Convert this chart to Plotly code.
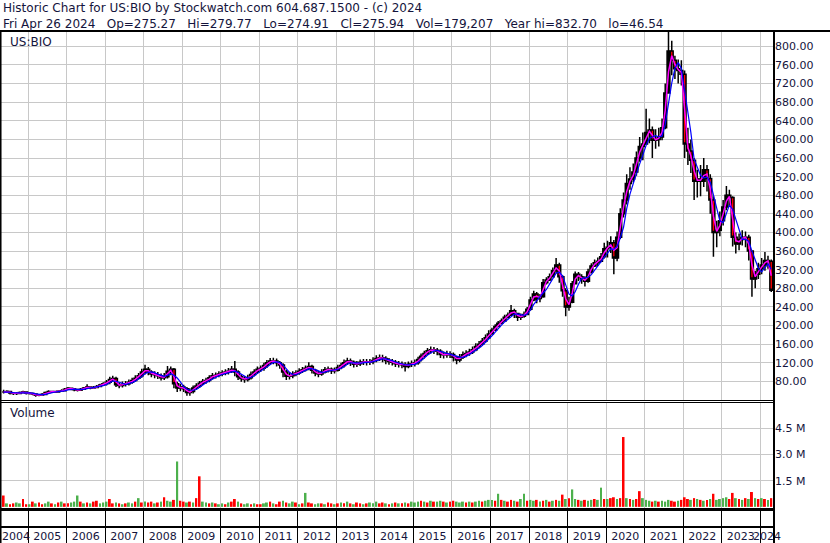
import pandas as pd
import plotly.graph_objects as go
from plotly.subplots import make_subplots

# monthly bars, May 2004 .. Apr 2024
months = pd.date_range('2004-05-01', periods=240, freq='MS') + pd.Timedelta(days=14)

close = [
    57, 58, 55, 54, 54, 56, 57, 55,
    54, 53, 50, 51, 52, 56, 58, 58, 57, 59, 60, 63,
    65, 64, 62, 61, 63, 66, 68, 66, 67, 69, 72, 75,
    78, 84, 86, 73, 71, 74, 75, 78, 82, 87, 92, 100,
    106, 100, 96, 94, 92, 88, 90, 102, 106, 75, 66, 68,
    64, 56, 58, 66, 70, 76, 80, 82, 88, 92, 93, 96,
    98, 100, 102, 106, 100, 90, 86, 84, 88, 95, 100, 106,
    108, 114, 120, 124, 124, 120, 115, 100, 91, 92, 96, 98,
    102, 105, 108, 112, 104, 98, 96, 100, 105, 106, 103, 104,
    110, 114, 120, 124, 121, 117, 118, 121, 122, 121, 122, 125,
    129, 131, 129, 125, 123, 121, 118, 117, 116, 112, 117, 118,
    120, 127, 134, 140, 146, 148, 147, 145, 138, 137, 139, 138,
    132, 126, 132, 137, 140, 143, 148, 155, 160, 166, 174, 182,
    190, 198, 205, 210, 218, 222, 232, 226, 218, 220, 224, 235,
    255, 268, 258, 262, 292, 298, 305, 318, 330, 305, 275, 240,
    250, 290, 310, 305, 300, 295, 315, 328, 335, 338, 348, 365,
    368, 378, 345, 390, 440, 470, 505, 515, 530, 560, 585, 590,
    615, 620, 598, 600, 605, 625, 700, 790, 770, 752, 748, 740,
    590, 575, 555, 510, 515, 510, 535, 516, 470, 400, 405, 425,
    455, 480, 475, 390, 375, 385, 390, 390, 360, 300, 310, 322,
    330, 340, 338, 276,
]

high = [
    62, 61, 59, 57, 57, 58, 60, 58,
    57, 56, 54, 53, 55, 58, 61, 60, 60, 61, 63, 66,
    68, 67, 65, 64, 66, 68, 74, 69, 70, 72, 75, 78,
    83, 90, 92, 90, 78, 80, 81, 84, 88, 93, 98, 107,
    116, 111, 104, 102, 100, 97, 98, 113, 112, 109, 79, 75,
    73, 68, 65, 71, 76, 81, 85, 88, 93, 98, 99, 102,
    104, 106, 109, 113, 124, 104, 95, 91, 94, 101, 106, 112,
    114, 120, 126, 130, 131, 129, 124, 119, 105, 100, 102, 104,
    108, 111, 114, 121, 116, 107, 103, 106, 111, 112, 110, 110,
    116, 120, 127, 131, 129, 125, 124, 127, 128, 128, 128, 132,
    136, 138, 137, 134, 130, 128, 126, 124, 123, 121, 123, 125,
    127, 133, 140, 146, 152, 155, 154, 152, 149, 144, 146, 145,
    142, 135, 139, 144, 147, 150, 155, 162, 167, 173, 181, 190,
    195, 203, 210, 215, 223, 228, 244, 236, 226, 226, 230, 240,
    262, 275, 272, 268, 300, 304, 312, 325, 345, 335, 308, 280,
    262, 296, 316, 315, 310, 306, 322, 334, 342, 346, 356, 378,
    382, 392, 384, 402, 452, 486, 525, 540, 548, 574, 605, 615,
    666, 645, 628, 622, 625, 645, 720, 833, 812, 780, 772, 770,
    748, 625, 600, 560, 535, 545, 560, 545, 525, 478, 425, 445,
    470, 500, 492, 478, 400, 398, 405, 402, 395, 362, 318, 335,
    345, 358, 350, 342,
]

low = [
    54, 55, 52, 51, 51, 53, 54, 52,
    52, 50, 47, 48, 50, 51, 55, 55, 55, 56, 58, 60,
    62, 61, 59, 58, 60, 62, 64, 63, 64, 66, 69, 71,
    71, 74, 79, 68, 65, 67, 69, 71, 75, 79, 84, 88,
    95, 93, 89, 87, 85, 82, 83, 86, 93, 65, 57, 59,
    57, 49, 49, 54, 62, 66, 72, 75, 78, 84, 86, 89,
    91, 93, 95, 98, 91, 83, 79, 77, 80, 84, 91, 96,
    100, 103, 109, 115, 117, 112, 107, 89, 83, 84, 87, 91,
    94, 98, 101, 104, 97, 91, 89, 92, 97, 99, 96, 97,
    101, 106, 110, 115, 113, 110, 111, 113, 115, 114, 115, 117,
    121, 124, 121, 117, 116, 114, 111, 110, 108, 101, 108, 111,
    112, 116, 123, 129, 136, 140, 139, 136, 130, 129, 131, 130,
    123, 117, 121, 128, 132, 135, 139, 145, 151, 157, 163, 171,
    181, 190, 198, 203, 210, 215, 222, 216, 210, 212, 217, 224,
    232, 252, 248, 250, 260, 288, 296, 305, 312, 292, 262, 220,
    232, 248, 288, 296, 290, 284, 292, 312, 326, 328, 336, 344,
    346, 356, 310, 338, 386, 432, 460, 492, 508, 522, 552, 555,
    588, 592, 560, 580, 585, 598, 622, 700, 738, 730, 720, 716,
    560, 545, 528, 470, 475, 478, 498, 488, 440, 348, 368, 392,
    415, 448, 455, 370, 355, 362, 372, 368, 340, 262, 280, 300,
    310, 318, 322, 272,
]

# volume in millions of shares
volume = [
    0.65, 0.2, 0.15, 0.2, 0.25, 0.2, 0.45, 0.15,
    0.15, 0.3, 0.2, 0.25, 0.15, 0.2, 0.3, 0.2, 0.15, 0.25, 0.3, 0.2,
    0.2, 0.25, 0.3, 0.65, 0.3, 0.2, 0.25, 0.2, 0.3, 0.35, 0.2, 0.25,
    0.3, 0.45, 0.2, 0.25, 0.2, 0.15, 0.2, 0.25, 0.2, 0.3, 0.5, 0.25,
    0.3, 0.25, 0.3, 0.2, 0.25, 0.3, 0.55, 0.35, 0.3, 0.4, 2.6, 0.35,
    0.3, 0.25, 0.3, 0.25, 0.5, 1.75, 0.3, 0.25, 0.2, 0.25, 0.2, 0.15,
    0.2, 0.15, 0.25, 0.3, 0.45, 0.3, 0.2, 0.15, 0.2, 0.15, 0.2, 0.15,
    0.15, 0.2, 0.25, 0.3, 0.2, 0.15, 0.3, 0.35, 0.25, 0.2, 0.3, 0.25,
    0.15, 0.2, 0.8, 0.25, 0.2, 0.15, 0.2, 0.2, 0.15, 0.25, 0.2, 0.15,
    0.2, 0.25, 0.2, 0.3, 0.2, 0.15, 0.25, 0.2, 0.15, 0.2, 0.25, 0.2,
    0.3, 0.2, 0.25, 0.2, 0.15, 0.2, 0.25, 0.2, 0.2, 0.25, 0.2, 0.3,
    0.25, 0.3, 0.35, 0.3, 0.25, 0.35, 0.3, 0.3, 0.35, 0.3, 0.25, 0.3,
    0.35, 0.3, 0.25, 0.3, 0.25, 0.3, 0.25, 0.3, 0.35, 0.3, 0.35, 0.4,
    0.4, 0.35, 0.75, 0.4, 0.35, 0.3, 0.4, 0.35, 0.3, 0.45, 0.75, 0.35,
    0.4, 0.35, 0.4, 0.3, 0.35, 0.4, 0.3, 0.35, 0.4, 0.35, 0.7, 0.45,
    0.5, 1.0, 0.45, 0.4, 0.35, 0.4, 0.35, 0.4, 0.45, 0.4, 1.1, 0.45,
    0.45, 0.5, 0.55, 0.45, 0.5, 4.0, 0.5, 0.45, 0.4, 0.45, 0.9, 0.5,
    0.4, 0.35, 0.3, 0.35, 0.3, 0.35, 0.3, 0.4, 0.35, 0.3, 0.35, 0.4,
    0.55, 0.45, 0.4, 0.5, 0.45, 0.4, 0.35, 0.4, 0.45, 0.75, 0.4, 0.45,
    0.5, 0.55, 0.45, 0.8, 0.5, 0.45, 0.4, 0.5, 0.45, 0.85, 0.5, 0.45,
    0.5, 0.45, 0.4, 0.5,
]

# r = down bar (red), g = up bar (green)
vol_dir = (
    "rgrrggrr"
    "grgrrggrgrgr" "rgggrgrgrrgg" "grrgrgrggrgr" "grrgrgrggrgr"
    "rgrgrrggrgrg" "grgrrgrggrgr" "rggrgrrgrggr" "grgrrggrgrrg"
    "rgrgrgrrgrgg" "grrgrgrgrgrg" "ggrgrgrggrgr" "rgggrgrggrgg"
    "grgrgrrgrggr" "ggrgrgrgrgrg" "rggrgrggrggr" "grrgrrgrgrrg"
    "ggrgrgggrrgr" "rrgrgrgrgrgg" "ggrrgrgrgrgr"
    "grgr"
)

years = list(range(2004, 2025))
year_starts = [f'{y}-01-01' for y in years[1:]]
label_pos = ['2004-09-10'] + [f'{y}-07-02' for y in years[1:-1]] + ['2024-03-05']
price_ticks = list(range(80, 801, 40))
vol_ticks = [1.5, 3.0, 4.5]

opens = [57] + close[:-1]
ma_fast = pd.Series(close).rolling(2, min_periods=1).mean()
ma_slow = pd.Series(close).rolling(4, min_periods=1).mean()
vol_colors = ['#ff0000' if d == 'r' else '#4cb04c' for d in vol_dir]

txt = '#14143c'
grid = '#c8c8c8'
font_family = 'DejaVu Sans, Verdana, sans-serif'

fig = make_subplots(rows=3, cols=1, shared_xaxes=True)

fig.add_trace(go.Candlestick(
    x=months, open=opens, high=high, low=low, close=close,
    increasing=dict(line=dict(color='black', width=1.5), fillcolor='black'),
    decreasing=dict(line=dict(color='black', width=1.5), fillcolor='red'),
    whiskerwidth=0, hoverinfo='skip'
), row=1, col=1)
fig.add_trace(go.Scatter(x=months, y=ma_fast, mode='lines',
                         line=dict(color='#ff00ff', width=1.5)), row=1, col=1)
fig.add_trace(go.Scatter(x=months, y=ma_slow, mode='lines',
                         line=dict(color='#0000ff', width=1.2)), row=1, col=1)
fig.add_trace(go.Bar(x=months, y=volume, marker_color=vol_colors,
                     marker_line_width=0), row=2, col=1)
# invisible point so the bottom date strip gets drawn
fig.add_trace(go.Scatter(x=[label_pos[1]], y=[1], mode='markers',
                         marker=dict(opacity=0), hoverinfo='skip'), row=3, col=1)

x_range = ['2004-04-20', '2024-05-11']

# pixel layout: plot area x 1..774, y 31..543
fig.update_layout(
    width=830, height=543,
    margin=dict(l=1, r=56, t=31, b=0, autoexpand=False),
    paper_bgcolor='white', plot_bgcolor='white',
    showlegend=False, bargap=0.35, boxgap=0.05, boxgroupgap=0,
    font=dict(family=font_family, size=11, color=txt),
)

for i in (1, 2):
    fig.update_xaxes(
        row=i, col=1, type='date', range=x_range, automargin=False,
        tickmode='array', tickvals=year_starts, showticklabels=False, ticks='',
        showgrid=True, gridcolor=grid, gridwidth=1,
        showline=True, mirror=True, linecolor='black', linewidth=1,
        rangeslider_visible=False,
    )

fig.update_xaxes(
    row=3, col=1, type='date', range=x_range, automargin=False,
    tickmode='array', tickvals=label_pos, ticktext=[str(y) for y in years],
    tickangle=0, ticks='', showgrid=False,
    ticklabelposition='inside', ticklabeloverflow='allow',
    tickfont=dict(size=11, color=txt),
    minor=dict(tickmode='array', tickvals=year_starts, ticks='',
               showgrid=True, gridcolor='black', gridwidth=1),
    showline=True, mirror=True, linecolor='black', linewidth=2,
    rangeslider_visible=False,
)

fig.update_yaxes(
    row=1, col=1, domain=[0.2793, 1], range=[40, 833], side='right', automargin=False,
    tickmode='array', tickvals=price_ticks, ticktext=[f'{v:.2f}' for v in price_ticks],
    showgrid=True, gridcolor=grid, zeroline=False, ticks='', showline=False,
)
fig.update_yaxes(
    row=2, col=1, domain=[0.06445, 0.27344], range=[-0.18, 5.95], side='right', automargin=False,
    tickmode='array', tickvals=vol_ticks, ticktext=[f'{v:.1f} M' for v in vol_ticks],
    showgrid=True, gridcolor=grid, zeroline=False, ticks='', showline=False,
)
fig.update_yaxes(
    row=3, col=1, domain=[0, 0.06445], range=[0, 2], automargin=False,
    tickmode='array', tickvals=[1], showticklabels=False, ticks='',
    showgrid=True, gridcolor='black', gridwidth=1.5, zeroline=False, showline=False,
)

# frame
fig.add_shape(type='line', xref='paper', yref='paper', x0=-0.01, x1=1.08, y0=1, y1=1,
              line=dict(color='black', width=2))
fig.add_shape(type='line', xref='paper', yref='paper', x0=-0.0006, x1=-0.0006, y0=0, y1=1,
              line=dict(color='black', width=2))
fig.add_shape(type='line', xref='paper', yref='paper', x0=1, x1=1, y0=0, y1=1,
              line=dict(color='black', width=2))

title1 = 'Historic Chart for US:BIO by Stockwatch.com 604.687.1500 - (c) 2024'
sp = '\u00a0' * 3
title2 = sp.join(['Fri Apr 26 2024', 'Op=275.27', 'Hi=279.77', 'Lo=274.91', 'Cl=275.94',
                  'Vol=179,207', 'Year hi=832.70', 'lo=46.54'])

fig.add_annotation(text=title1 + '<br>' + title2, xref='paper', yref='paper',
                   x=0.0013, y=1.0605, xanchor='left', yanchor='top', align='left',
                   showarrow=False, font=dict(size=12), borderpad=0)
fig.add_annotation(text='US:BIO', xref='paper', yref='paper', x=0.009, y=0.9785,
                   xanchor='left', yanchor='middle', showarrow=False, font=dict(size=12))
fig.add_annotation(text='Volume', xref='paper', yref='paper', x=0.009, y=0.2539,
                   xanchor='left', yanchor='middle', showarrow=False, font=dict(size=12))

fig.write_html("out.html", config={'displayModeBar': False},
               post_script="document.body.style.margin='0';")
